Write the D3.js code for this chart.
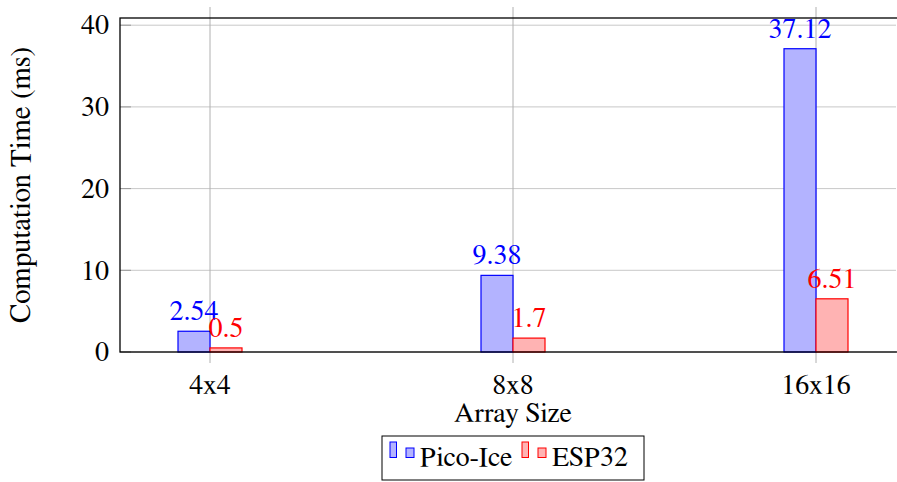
<!DOCTYPE html>
<html>
<head>
<meta charset="utf-8">
<script src="https://cdn.jsdelivr.net/npm/d3@7"></script>
<style>
  body { margin: 0; background: #fff; }
  svg text { font-family: "Nimbus Roman", "Nimbus Roman No9 L", "FreeSerif", "Noto Serif", "Liberation Serif", Times, "DejaVu Serif", serif; }
</style>
</head>
<body>
<svg id="chart" width="897" height="482"></svg>
<script>
// data
const categories = ["4x4", "8x8", "16x16"];
const series = ["Pico-Ice", "ESP32"];
const picoIce = [2.54, 9.38, 37.12];
const esp32 = [0.5, 1.7, 6.51];
const yTicks = [0, 10, 20, 30, 40];

const strokeColors = { "Pico-Ice": "#0000ff", "ESP32": "#ff0000" };
const fillColors = { "Pico-Ice": "#b3b3ff", "ESP32": "#ffb3b3" };
const fontSize = "28px";

const margin = { top: 18, left: 120, bottom: 130 },
      width = 780,
      height = 482 - margin.top - margin.bottom;

const svg = d3.select("#chart");
const g = svg.append("g").attr("transform", `translate(${margin.left}, ${margin.top})`);

const x = d3.scalePoint().domain(categories).range([90, 696]);
const xs = d3.scaleBand().domain(series).range([-32, 32]);
const y = d3.scaleLinear().domain([0, 40.88]).range([height, 0]);

// grid
g.append("g").selectAll("line")
  .data(yTicks).join("line")
  .attr("x1", 0).attr("x2", 776)
  .attr("y1", d => y(d)).attr("y2", d => y(d))
  .attr("stroke", "#c8c8c8").attr("stroke-width", 1);

g.append("g").selectAll("line")
  .data(yTicks).join("line")
  .attr("x1", 0).attr("x2", 11)
  .attr("y1", d => y(d)).attr("y2", d => y(d))
  .attr("stroke", "#999").attr("stroke-width", 1);

g.append("g").selectAll("line")
  .data(categories).join("line")
  .attr("x1", d => x(d)).attr("x2", d => x(d))
  .attr("y1", -11).attr("y2", height + 11)
  .attr("stroke", "#b0b0b0").attr("stroke-width", 1);

// bars
const rows = categories.map((c, i) => ({ cat: c, vals: [
  { s: "Pico-Ice", v: picoIce[i] }, { s: "ESP32", v: esp32[i] }] }));

const groups = g.append("g").selectAll("g")
  .data(rows).join("g")
  .attr("transform", d => `translate(${x(d.cat)},0)`);

groups.selectAll("rect")
  .data(d => d.vals).join("rect")
  .attr("x", d => xs(d.s))
  .attr("y", d => y(d.v))
  .attr("width", xs.bandwidth())
  .attr("height", d => y(0) - y(d.v))
  .attr("fill", d => fillColors[d.s])
  .attr("stroke", d => strokeColors[d.s])
  .attr("stroke-width", 1.2);

groups.selectAll("text")
  .data(d => d.vals).join("text")
  .attr("x", d => xs(d.s) + xs.bandwidth() / 2)
  .attr("y", d => y(d.v) - 11)
  .attr("text-anchor", "middle")
  .attr("fill", d => strokeColors[d.s])
  .style("font-size", fontSize)
  .text(d => d.v);

// frame
g.append("rect")
  .attr("x", 0).attr("y", 0)
  .attr("width", width).attr("height", height)
  .attr("fill", "none").attr("stroke", "#000").attr("stroke-width", 1.3);

// tick labels
g.append("g").selectAll("text")
  .data(yTicks).join("text")
  .attr("x", -11).attr("y", d => y(d))
  .attr("dy", "0.33em")
  .attr("text-anchor", "end")
  .style("font-size", fontSize)
  .text(d => d);

g.append("g").selectAll("text")
  .data(categories).join("text")
  .attr("x", d => x(d)).attr("y", height + 42)
  .attr("text-anchor", "middle")
  .style("font-size", fontSize)
  .text(d => d);

// axis titles
g.append("text")
  .attr("x", x("8x8")).attr("y", height + 70)
  .attr("text-anchor", "middle")
  .style("font-size", fontSize)
  .text("Array Size");

svg.append("text")
  .attr("transform", `translate(30, ${margin.top + height / 2}) rotate(-90)`)
  .attr("text-anchor", "middle")
  .style("font-size", "29px")
  .text("Computation Time (ms)");

// legend
const legend = svg.append("g").attr("transform", "translate(382, 436)");
legend.append("rect")
  .attr("x", 0).attr("y", 0).attr("width", 262).attr("height", 44)
  .attr("fill", "#fff").attr("stroke", "#000").attr("stroke-width", 1);

const legendX = { "Pico-Ice": 8, "ESP32": 140 };
series.forEach(s => {
  const item = legend.append("g").attr("transform", `translate(${legendX[s]}, 0)`);
  item.append("rect").attr("x", 0).attr("y", 6).attr("width", 6.5).attr("height", 15.5)
    .attr("fill", fillColors[s]).attr("stroke", strokeColors[s]).attr("stroke-width", 1);
  item.append("rect").attr("x", 16).attr("y", 12).attr("width", 8).attr("height", 9.5)
    .attr("fill", fillColors[s]).attr("stroke", strokeColors[s]).attr("stroke-width", 1);
  item.append("text").attr("x", 30).attr("y", 30)
    .style("font-size", fontSize).text(s);
});
</script>
</body>
</html>
